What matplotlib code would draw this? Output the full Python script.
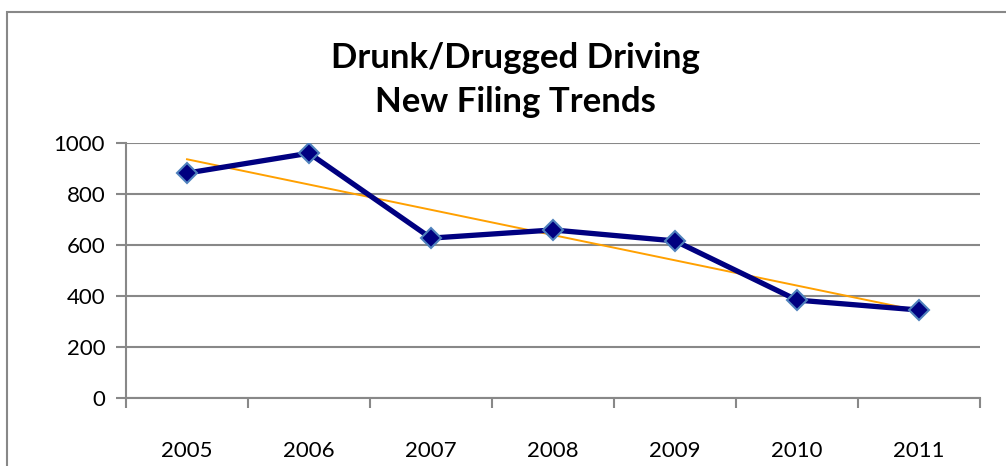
import matplotlib.pyplot as plt
import numpy as np
from matplotlib.patches import Rectangle

years = ['2005', '2006', '2007', '2008', '2009', '2010', '2011']
filings = [882, 960, 627, 659, 616, 384, 345]

plt.rcParams['font.family'] = ['Lato', 'DejaVu Sans']

fig = plt.figure(figsize=(10.06, 4.66), dpi=100)
ax = fig.add_axes([126 / 1006, 1 - 398 / 466, 854 / 1006, 255 / 466])

x = np.arange(len(years))
grey = '#888888'

# trend line (linear fit)
k, b = np.polyfit(x, filings, 1)
ax.plot(x, k * x + b, color='#FFA000', lw=1.4, zorder=2)

ax.plot(x, filings, color='#000080', lw=3.8, marker='D', markersize=10,
        markerfacecolor='#000080', markeredgecolor='#4F81BD', markeredgewidth=1.5,
        zorder=3)

ax.set_xlim(-0.5, len(years) - 0.5)
ax.set_ylim(0, 1000)
ax.set_yticks(range(0, 1001, 200))
ax.yaxis.grid(True, color=grey, lw=1.5)
ax.set_axisbelow(True)

ax.set_xticks(x)
ax.set_xticklabels(years)
ax.set_xticks(np.arange(-0.5, len(years)), minor=True)
ax.tick_params(axis='x', which='major', length=0, pad=31, labelsize=16)
ax.tick_params(axis='x', which='minor', length=7, width=1.5, color=grey)
ax.tick_params(axis='y', length=7, width=1.5, color=grey, labelsize=16, pad=8)

for s in ['top', 'right']:
    ax.spines[s].set_visible(False)
for s in ['left', 'bottom']:
    ax.spines[s].set_color(grey)
    ax.spines[s].set_linewidth(1.5)

fig.text(0.512, 1 - 80 / 466, 'Drunk/Drugged Driving\nNew Filing Trends',
         ha='center', va='center', fontsize=25, fontweight='bold',
         linespacing=1.45)

# chart frame: only left and top edges visible
fig.patches.append(Rectangle((6.5 / 1006, -0.1), 1.2, 1.1 - 11.5 / 466,
                             transform=fig.transFigure,
                             fill=False, edgecolor=grey, lw=1.5))

fig.savefig('out.png', dpi=100)
